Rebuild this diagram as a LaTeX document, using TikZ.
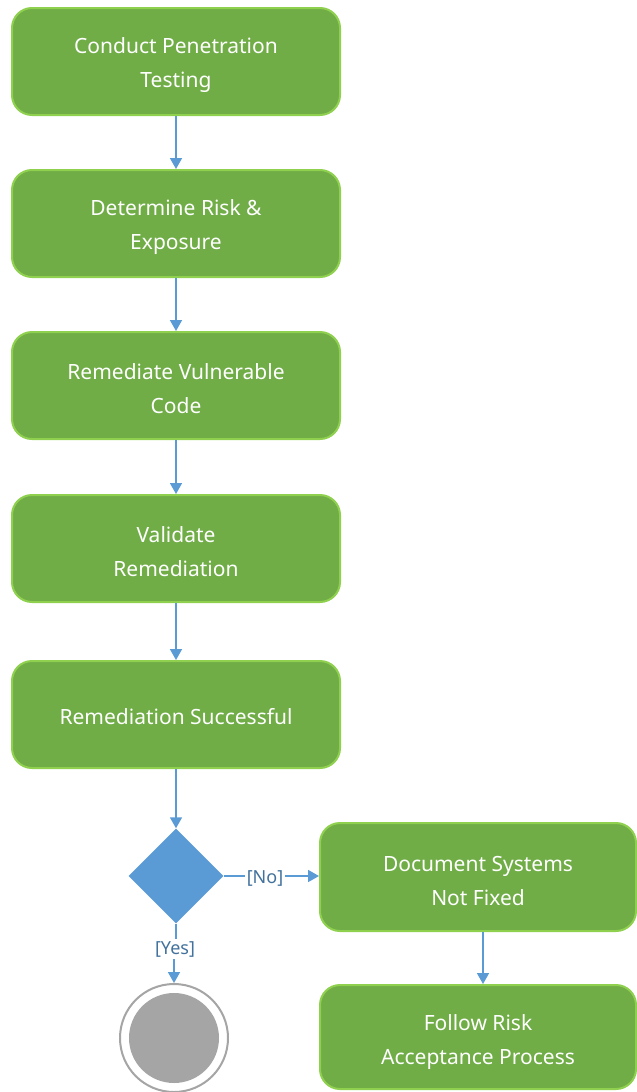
\documentclass[tikz,border=0pt]{standalone}
\usepackage{fontspec}
\setmainfont{Noto Sans}
\usetikzlibrary{shapes.geometric,arrows.meta}
\definecolor{boxfill}{HTML}{70AD47}
\definecolor{boxedge}{HTML}{8FD14F}
\definecolor{flow}{HTML}{5B9BD5}
\definecolor{guard}{HTML}{41719C}
\definecolor{endgray}{HTML}{A5A5A5}
\tikzset{
  action/.style={draw=boxedge, line width=2pt, fill=boxfill, rounded corners=20pt,
    minimum width=328pt, minimum height=107pt, inner sep=0pt},
  actiontext/.style={text=white, align=center, inner sep=0pt,
    font=\fontsize{21}{34}\selectfont},
  decision/.style={diamond, fill=flow, draw=none, minimum width=95pt, minimum height=95pt, inner sep=0pt},
  flowline/.style={draw=flow, line width=1.7pt, -{Triangle[length=11pt,width=12pt]}},
  plainline/.style={draw=flow, line width=1.7pt},
  guardtext/.style={text=guard, font=\fontsize{18}{20}\selectfont, inner sep=2pt},
}
\begin{document}
\begin{tikzpicture}[x=1pt,y=-1pt]
\useasboundingbox (0,0) rectangle (637,1092);
% activity boxes
\node[action] (pentest) at (176,61.5) {};
\node[action] (risk) at (176,223.5) {};
\node[action] (remed) at (176,385.5) {};
\node[action] (valid) at (176,548.5) {};
\node[action] (success) at (176,714.5) {};
\node[action, minimum width=316pt, minimum height=108pt] (docfix) at (478,877) {};
\node[action, minimum width=316pt, minimum height=104pt] (accept) at (478,1037) {};
% box captions
\node[actiontext] (pentestT) at ([yshift=-3.5pt]pentest.center) {Conduct Penetration\\Testing};
\node[actiontext] (riskT) at ([yshift=-3.5pt]risk.center) {Determine Risk \&\\Exposure};
\node[actiontext] (remedT) at ([yshift=-3.5pt]remed.center) {Remediate Vulnerable\\Code};
\node[actiontext] (validT) at ([yshift=-3.5pt]valid.center) {Validate\\Remediation};
\node[actiontext] (successT) at ([yshift=-2pt]success.center) {Remediation Successful};
\node[actiontext] (docfixT) at ([yshift=-3.5pt]docfix.center) {Document Systems\\Not Fixed};
\node[actiontext] (acceptT) at ([yshift=-5pt]accept.center) {Follow Risk\\Acceptance Process};
% decision and final node
\node[decision] (check) at (176,876) {};
\node[circle, draw=endgray, line width=2pt, fill=white, minimum size=108pt, inner sep=0pt] (final) at (174,1038) {};
\node[circle, fill=endgray, minimum size=90pt, inner sep=0pt] (finalcore) at (final) {};
% guards
\node[guardtext, anchor=base] (no) at (265,883) {[No]};
\node[guardtext, anchor=base] (yes) at (175,954) {[Yes]};

\draw[flowline] (pentest) -- (risk);
\draw[flowline] (risk) -- (remed);
\draw[flowline] (remed) -- (valid);
\draw[flowline] (valid) -- (success);
\draw[flowline] (success) -- (check);
\draw[plainline] (check.east) -- (check.east -| no.west);
\draw[flowline] (check.east -| no.east) -- (check.east -| docfix.west);
\draw[plainline] (check.south) -- (check.south |- yes.north);
\draw[flowline] (yes.south -| final.north) -- (final.north);
\draw[flowline] (docfix.south -| 483,0) -- (accept.north -| 483,0);
\end{tikzpicture}
\end{document}
